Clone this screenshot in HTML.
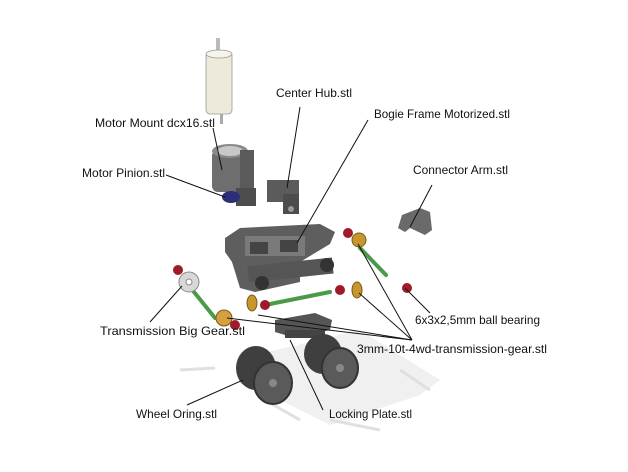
<!DOCTYPE html>
<html><head><meta charset="utf-8"><style>
html,body{margin:0;padding:0;background:#fff;}
svg{display:block;}
text{font-family:"Liberation Sans",sans-serif;font-size:12px;fill:#111;}
</style></head><body>
<svg width="628" height="472" viewBox="0 0 628 472">
<!-- shadow -->
<g fill="#f0f0f0">
<polygon points="255,355 360,330 440,380 420,395 330,425 250,385"/>
</g>
<g stroke="#e0e0e0" stroke-width="3">
<line x1="180" y1="370" x2="215" y2="368"/><line x1="265" y1="400" x2="300" y2="420"/>
<line x1="400" y1="370" x2="430" y2="390"/><line x1="330" y1="420" x2="380" y2="430"/>
</g>
<!-- motor -->
<rect x="216" y="38" width="4" height="14" fill="#bbb"/>
<rect x="206" y="52" width="26" height="62" rx="4" fill="#eeeadb" stroke="#999" stroke-width="0.8"/>
<ellipse cx="219" cy="54" rx="13" ry="4" fill="#f6f4ea" stroke="#999" stroke-width="0.8"/>
<rect x="220" y="114" width="3" height="10" fill="#aaa"/>
<!-- motor mount -->
<rect x="212" y="150" width="36" height="42" rx="6" fill="#6e6e6e"/>
<ellipse cx="230" cy="151" rx="18" ry="7" fill="#8a8a8a"/>
<ellipse cx="230" cy="151" rx="13" ry="5" fill="#c8c8c8"/>
<rect x="240" y="150" width="14" height="45" fill="#5a5a5a"/>
<rect x="236" y="188" width="20" height="18" fill="#4d4d4d"/>
<!-- pinion -->
<ellipse cx="231" cy="197" rx="9" ry="6" fill="#2d2d7a"/>
<!-- center hub -->
<rect x="267" y="180" width="32" height="22" fill="#5b5b5b"/>
<rect x="283" y="194" width="16" height="20" fill="#4c4c4c"/>
<circle cx="291" cy="209" r="3" fill="#999"/>
<!-- bogie frame -->
<polygon points="225,238 240,228 320,224 335,232 330,244 300,262 300,282 255,292 240,288 232,262 225,252" fill="#5e5e5e"/>
<rect x="245" y="236" width="60" height="20" fill="#7a7a7a"/>
<rect x="250" y="242" width="18" height="12" fill="#444"/>
<rect x="280" y="240" width="18" height="12" fill="#444"/>
<rect x="248" y="262" width="85" height="16" fill="#555" transform="rotate(-6 290 270)"/>
<circle cx="262" cy="283" r="7" fill="#333"/><circle cx="327" cy="265" r="7" fill="#333"/>
<!-- connector arm -->
<polygon points="402,215 420,208 430,212 432,230 425,235 410,228 405,232 398,228" fill="#6a6a6a"/>
<!-- green rods -->
<g stroke="#4a9a4a" stroke-width="4" stroke-linecap="round">
<line x1="360" y1="248" x2="386" y2="275"/>
<line x1="270" y1="304" x2="330" y2="292"/>
<line x1="190" y1="287" x2="215" y2="318"/>
</g>
<!-- gears -->
<circle cx="359" cy="240" r="7" fill="#c8962e" stroke="#7a5a1a" stroke-width="1"/>
<ellipse cx="357" cy="290" rx="5" ry="8" fill="#c8962e" stroke="#7a5a1a" stroke-width="1"/>
<ellipse cx="252" cy="303" rx="5" ry="8" fill="#c8962e" stroke="#7a5a1a" stroke-width="1"/>
<circle cx="224" cy="318" r="8" fill="#d4a040" stroke="#7a5a1a" stroke-width="1"/>
<circle cx="189" cy="282" r="10" fill="#d8d8d8" stroke="#888" stroke-width="1"/>
<circle cx="189" cy="282" r="3" fill="#fff" stroke="#888"/>
<!-- bearings -->
<g fill="#a01a2a">
<circle cx="348" cy="233" r="5"/><circle cx="407" cy="288" r="5"/>
<circle cx="340" cy="290" r="5"/><circle cx="265" cy="305" r="5"/>
<circle cx="178" cy="270" r="5"/><circle cx="235" cy="325" r="5"/>
</g>
<!-- locking plate -->
<polygon points="275,320 315,313 332,320 330,330 295,338 275,332" fill="#555"/>
<rect x="285" y="330" width="40" height="8" fill="#444"/>
<!-- wheels -->
<ellipse cx="256" cy="368" rx="20" ry="22" fill="#3f3f3f"/>
<ellipse cx="273" cy="383" rx="19" ry="21" fill="#5a5a5a" stroke="#333" stroke-width="2"/>
<ellipse cx="273" cy="383" rx="4" ry="4" fill="#888"/>
<ellipse cx="323" cy="354" rx="19" ry="20" fill="#3f3f3f"/>
<ellipse cx="340" cy="368" rx="18" ry="20" fill="#5a5a5a" stroke="#333" stroke-width="2"/>
<ellipse cx="340" cy="368" rx="4" ry="4" fill="#888"/>
<!-- leader lines -->
<g stroke="#111" stroke-width="1" fill="none">
<line x1="213" y1="128" x2="222" y2="170"/>
<line x1="166" y1="175" x2="225" y2="197"/>
<line x1="300" y1="107" x2="287" y2="188"/>
<line x1="368" y1="120" x2="297" y2="243"/>
<line x1="432" y1="185" x2="410" y2="227"/>
<line x1="430" y1="313" x2="405" y2="288"/>
<line x1="412" y1="340" x2="358" y2="244"/>
<line x1="412" y1="340" x2="359" y2="293"/>
<line x1="412" y1="340" x2="227" y2="318"/>
<line x1="412" y1="340" x2="258" y2="315"/>
<line x1="150" y1="322" x2="182" y2="286"/>
<line x1="187" y1="405" x2="243" y2="380"/>
<line x1="323" y1="410" x2="290" y2="340"/>
</g>
<!-- labels -->
<text x="95" y="127" textLength="120" lengthAdjust="spacingAndGlyphs">Motor Mount dcx16.stl</text>
<text x="276" y="97" textLength="76" lengthAdjust="spacingAndGlyphs">Center Hub.stl</text>
<text x="374" y="118" textLength="136" lengthAdjust="spacingAndGlyphs">Bogie Frame Motorized.stl</text>
<text x="82" y="177" textLength="83" lengthAdjust="spacingAndGlyphs">Motor Pinion.stl</text>
<text x="413" y="174" textLength="95" lengthAdjust="spacingAndGlyphs">Connector Arm.stl</text>
<text x="415" y="324" textLength="125" lengthAdjust="spacingAndGlyphs">6x3x2,5mm ball bearing</text>
<text x="100" y="335" textLength="145" lengthAdjust="spacingAndGlyphs">Transmission Big Gear.stl</text>
<text x="357" y="353" textLength="190" lengthAdjust="spacingAndGlyphs">3mm-10t-4wd-transmission-gear.stl</text>
<text x="136" y="418" textLength="81" lengthAdjust="spacingAndGlyphs">Wheel Oring.stl</text>
<text x="329" y="418" textLength="83" lengthAdjust="spacingAndGlyphs">Locking Plate.stl</text>
</svg>
</body></html>
